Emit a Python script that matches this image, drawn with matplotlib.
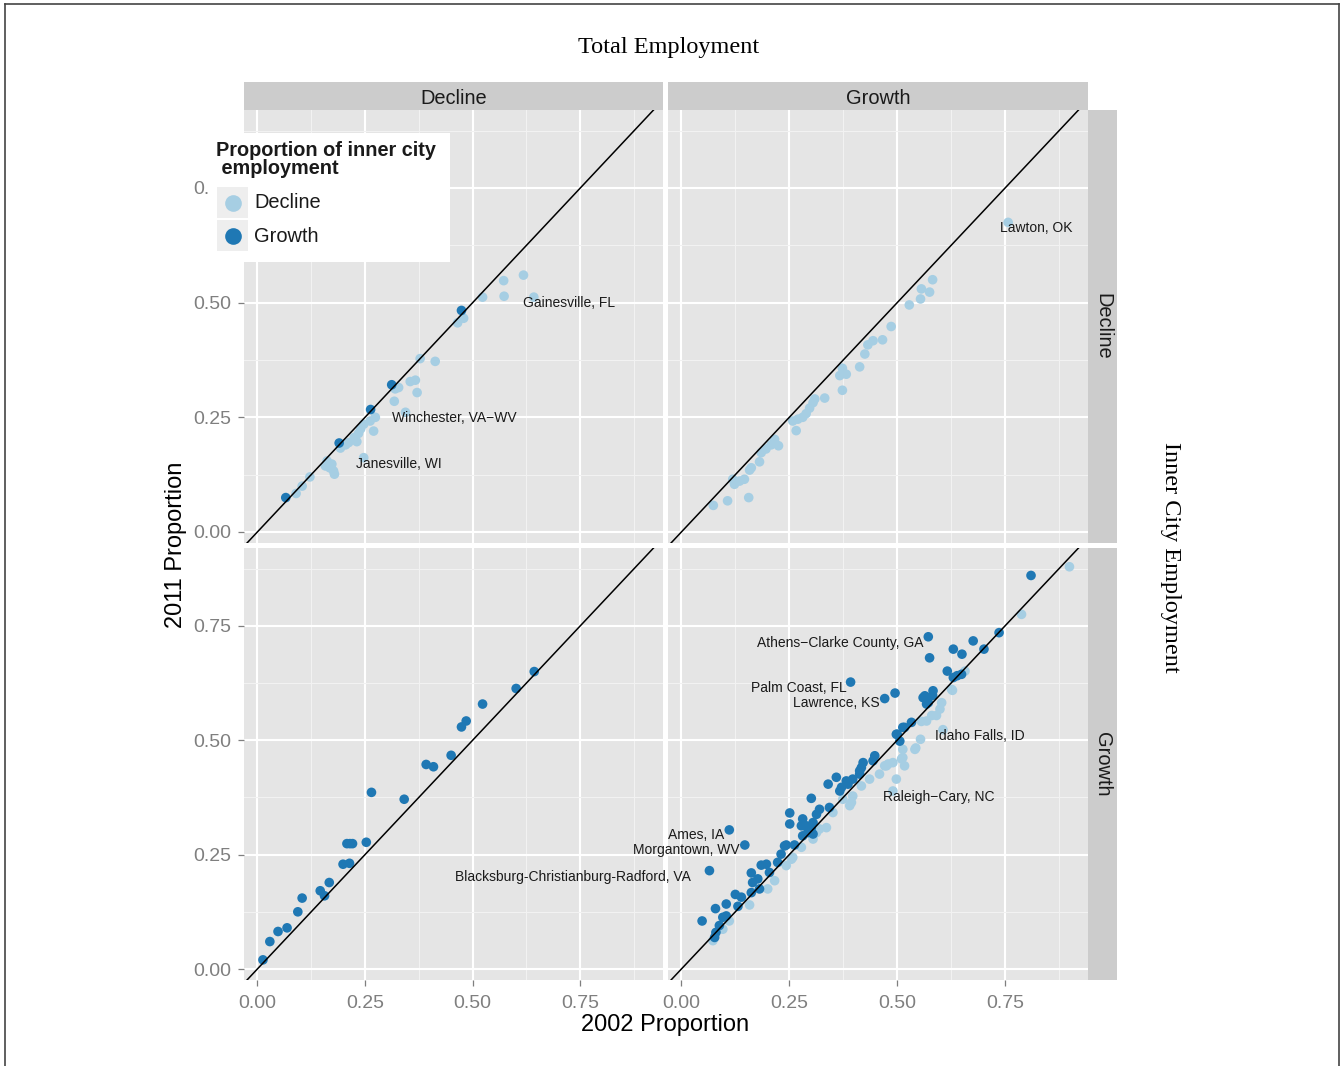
import matplotlib
matplotlib.use("Agg")
import matplotlib.pyplot as plt
from matplotlib.lines import Line2D
from matplotlib.patches import Rectangle

plt.rcParams['font.family'] = ['Liberation Sans', 'DejaVu Sans']

LIGHT = '#A6CEE3'
DARK = '#1F78B4'

# ---- Facet levels --------------------------------------------------------
col_levels = ["Decline", "Growth"]      # total employment
row_levels = ["Decline", "Growth"]      # inner city employment
group_levels = ["Decline", "Growth"]    # proportion of inner city employment
group_colors = [LIGHT, DARK]

# ---- Total: Decline / Inner city: Decline ---------------------------------
dd_light_x = [0.090, 0.104, 0.122, 0.158, 0.162, 0.173, 0.177, 0.179, 0.168, 0.247,
              0.193, 0.212, 0.231, 0.225, 0.235, 0.270, 0.247, 0.262, 0.274, 0.344,
              0.320, 0.328, 0.318, 0.355, 0.367, 0.371, 0.378, 0.413, 0.465, 0.479,
              0.523, 0.573, 0.572, 0.618, 0.642, 0.205, 0.240]
dd_light_y = [0.084, 0.100, 0.120, 0.144, 0.155, 0.148, 0.133, 0.126, 0.140, 0.162,
              0.183, 0.195, 0.197, 0.206, 0.215, 0.220, 0.235, 0.242, 0.250, 0.261,
              0.312, 0.315, 0.285, 0.328, 0.331, 0.304, 0.378, 0.372, 0.456, 0.466,
              0.512, 0.514, 0.548, 0.560, 0.512, 0.190, 0.225]
dd_dark_x = [0.066, 0.190, 0.263, 0.312, 0.474]
dd_dark_y = [0.075, 0.194, 0.267, 0.321, 0.483]

# ---- Total: Growth / Inner city: Decline ----------------------------------
gd_light_x = [0.757, 0.582, 0.556, 0.575, 0.554, 0.528, 0.486, 0.466, 0.444, 0.432,
              0.425, 0.413, 0.373, 0.367, 0.382, 0.373, 0.332, 0.309, 0.305, 0.297,
              0.289, 0.281, 0.270, 0.258, 0.266, 0.225, 0.216, 0.208, 0.196, 0.185,
              0.181, 0.162, 0.158, 0.156, 0.146, 0.135, 0.123, 0.119, 0.107, 0.074]
gd_light_y = [0.675, 0.550, 0.530, 0.523, 0.508, 0.495, 0.448, 0.419, 0.417, 0.408,
              0.388, 0.360, 0.357, 0.341, 0.344, 0.309, 0.292, 0.290, 0.282, 0.270,
              0.258, 0.250, 0.246, 0.242, 0.221, 0.188, 0.202, 0.190, 0.181, 0.173,
              0.153, 0.140, 0.135, 0.075, 0.115, 0.111, 0.104, 0.115, 0.068, 0.058]
gd_dark_x = []
gd_dark_y = []

# ---- Total: Decline / Inner city: Growth ----------------------------------
dg_light_x = []
dg_light_y = []
dg_dark_x = [0.013, 0.029, 0.048, 0.069, 0.094, 0.104, 0.146, 0.156, 0.167, 0.199,
             0.214, 0.208, 0.221, 0.253, 0.265, 0.341, 0.392, 0.409, 0.450, 0.474,
             0.485, 0.523, 0.601, 0.643, 0.215]
dg_dark_y = [0.020, 0.060, 0.082, 0.090, 0.125, 0.155, 0.171, 0.160, 0.189, 0.229,
             0.231, 0.274, 0.274, 0.277, 0.386, 0.371, 0.447, 0.442, 0.467, 0.529,
             0.542, 0.579, 0.613, 0.650, 0.274]

# ---- Total: Growth / Inner city: Growth -----------------------------------
gg_light_x = [0.899, 0.788, 0.657, 0.626, 0.603, 0.599, 0.568, 0.580, 0.556, 0.606,
              0.554, 0.541, 0.513, 0.513, 0.517, 0.479, 0.490, 0.471, 0.498, 0.475,
              0.459, 0.436, 0.490, 0.397, 0.390, 0.374, 0.351, 0.336, 0.320, 0.305,
              0.278, 0.313, 0.258, 0.243, 0.216, 0.200, 0.158, 0.111, 0.096, 0.073,
              0.255, 0.394, 0.417, 0.543, 0.591, 0.510, 0.628]
gg_light_y = [0.879, 0.775, 0.651, 0.611, 0.582, 0.568, 0.542, 0.554, 0.541, 0.523,
              0.502, 0.480, 0.480, 0.462, 0.444, 0.448, 0.451, 0.444, 0.415, 0.444,
              0.426, 0.415, 0.389, 0.378, 0.357, 0.371, 0.342, 0.309, 0.306, 0.284,
              0.266, 0.298, 0.244, 0.226, 0.193, 0.175, 0.140, 0.105, 0.087, 0.062,
              0.240, 0.364, 0.400, 0.483, 0.554, 0.459, 0.609]
gg_dark_x = [0.810, 0.736, 0.572, 0.676, 0.701, 0.630, 0.650, 0.575, 0.616, 0.630,
             0.639, 0.649, 0.583, 0.564, 0.582, 0.572, 0.392, 0.495, 0.471, 0.513,
             0.533, 0.498, 0.506, 0.448, 0.444, 0.421, 0.417, 0.413, 0.397, 0.382,
             0.359, 0.340, 0.371, 0.367, 0.386, 0.301, 0.343, 0.320, 0.313, 0.251,
             0.251, 0.281, 0.289, 0.278, 0.301, 0.281, 0.293, 0.305, 0.239, 0.262,
             0.231, 0.223, 0.243, 0.285, 0.305, 0.204, 0.181, 0.162, 0.165, 0.177,
             0.185, 0.197, 0.162, 0.139, 0.131, 0.096, 0.104, 0.088, 0.080, 0.077,
             0.125, 0.104, 0.079, 0.048, 0.065, 0.147, 0.111, 0.413, 0.500, 0.517,
             0.560, 0.568]
gg_dark_y = [0.860, 0.735, 0.726, 0.717, 0.699, 0.699, 0.688, 0.680, 0.651, 0.637,
             0.641, 0.644, 0.608, 0.597, 0.598, 0.582, 0.627, 0.603, 0.591, 0.528,
             0.539, 0.513, 0.498, 0.466, 0.455, 0.451, 0.440, 0.426, 0.415, 0.411,
             0.419, 0.404, 0.397, 0.389, 0.404, 0.373, 0.353, 0.349, 0.338, 0.341,
             0.317, 0.328, 0.313, 0.313, 0.309, 0.291, 0.298, 0.295, 0.269, 0.271,
             0.251, 0.233, 0.271, 0.313, 0.320, 0.211, 0.175, 0.210, 0.189, 0.197,
             0.227, 0.229, 0.167, 0.157, 0.137, 0.113, 0.116, 0.095, 0.080, 0.069,
             0.163, 0.142, 0.132, 0.105, 0.215, 0.271, 0.304, 0.433, 0.513, 0.528,
             0.593, 0.579]

# ---- Named metro areas (text, x, y, horizontal alignment) -----------------
dd_labels = [("Gainesville, FL", 0.618, 0.499, 'left'),
             ("Winchester, VA\u2212WV", 0.313, 0.248, 'left'),
             ("Janesville, WI", 0.228, 0.148, 'left')]
gd_labels = [("Lawton, OK", 0.738, 0.662, 'left')]
dg_labels = []
gg_labels = [("Athens\u2212Clarke County, GA", 0.560, 0.713, 'right'),
             ("Palm Coast, FL", 0.382, 0.615, 'right'),
             ("Lawrence, KS", 0.459, 0.581, 'right'),
             ("Idaho Falls, ID", 0.587, 0.509, 'left'),
             ("Raleigh\u2212Cary, NC", 0.466, 0.375, 'left'),
             ("Ames, IA", 0.100, 0.293, 'right'),
             ("Morgantown, WV", 0.135, 0.260, 'right'),
             ("Blacksburg-Christianburg-Radford, VA", 0.023, 0.201, 'right')]

ticks = [0.0, 0.25, 0.50, 0.75]
tick_labels = ["0.00", "0.25", "0.50", "0.75"]
minor_ticks = [0.125, 0.375, 0.625, 0.875]

W, H = 1344, 1066
fig = plt.figure(figsize=(W / 100, H / 100), dpi=100)


def fx(px):
    return px / W


def fy(py):
    return 1 - py / H


col_px = [(244, 663), (668, 1088)]
row_px = [(110, 543), (548, 980)]

panels = {
    (0, 0): (dd_light_x, dd_light_y, dd_dark_x, dd_dark_y, dd_labels),
    (0, 1): (gd_light_x, gd_light_y, gd_dark_x, gd_dark_y, gd_labels),
    (1, 0): (dg_light_x, dg_light_y, dg_dark_x, dg_dark_y, dg_labels),
    (1, 1): (gg_light_x, gg_light_y, gg_dark_x, gg_dark_y, gg_labels),
}

GRID_BG = '#E5E5E5'
TICK_GREY = '#7F7F7F'

for (r, c), (lx, ly, dx, dy, labs) in panels.items():
    x0, x1 = col_px[c]
    y0, y1 = row_px[r]
    ax = fig.add_axes([fx(x0), fy(y1), (x1 - x0) / W, (y1 - y0) / H])
    ax.set_facecolor(GRID_BG)
    for s in ax.spines.values():
        s.set_visible(False)
    ax.set_xlim(-0.031, 0.942)
    ax.set_ylim(-0.024, 0.920)
    ax.set_xticks(ticks)
    ax.set_yticks(ticks)
    ax.set_xticks(minor_ticks, minor=True)
    ax.set_yticks(minor_ticks, minor=True)
    ax.grid(which='major', color='white', lw=1.5)
    ax.grid(which='minor', color='#F2F2F2', lw=0.8)
    ax.set_axisbelow(True)
    ax.tick_params(which='minor', length=0)
    ax.tick_params(which='major', color=TICK_GREY, length=4.5, width=0.9,
                   labelsize=14, labelcolor=TICK_GREY)
    ax.tick_params(axis='x', pad=6.5)
    ax.tick_params(axis='y', pad=4.5)
    if c == 0:
        ax.set_yticklabels(tick_labels)
    else:
        ax.tick_params(axis='y', length=0, labelleft=False)
    if r == 1:
        ax.set_xticklabels(tick_labels)
    else:
        ax.tick_params(axis='x', length=0, labelbottom=False)

    ax.scatter(lx, ly, s=48, color=LIGHT, edgecolors='none', zorder=3)
    ax.scatter(dx, dy, s=48, color=DARK, edgecolors='none', zorder=3)
    ax.axline((0, 0), slope=1, color='black', lw=1.1, zorder=4)
    for txt, tx, ty, ha in labs:
        ax.text(tx, ty, txt, ha=ha, va='center', fontsize=10, color='#1A1A1A',
                clip_on=False, zorder=6)

# facet strips
STRIP = '#CCCCCC'
for c, (x0, x1) in enumerate(col_px):
    sa = fig.add_axes([fx(x0), fy(110), (x1 - x0) / W, 28 / H])
    sa.set_facecolor(STRIP)
    sa.set_xticks([]); sa.set_yticks([])
    for s in sa.spines.values():
        s.set_visible(False)
    sa.text(0.5, 0.42, col_levels[c], ha='center', va='center', fontsize=14.4,
            color='#1A1A1A', transform=sa.transAxes)
for r, (y0, y1) in enumerate(row_px):
    sa = fig.add_axes([fx(1088), fy(y1), 29 / W, (y1 - y0) / H])
    sa.set_facecolor(STRIP)
    sa.set_xticks([]); sa.set_yticks([])
    for s in sa.spines.values():
        s.set_visible(False)
    sa.text(0.5, 0.5, row_levels[r], ha='center', va='center', fontsize=14.4,
            rotation=-90, color='#1A1A1A', transform=sa.transAxes)

# axis titles
fig.text(fx(176), fy(545), "2011 Proportion", rotation=90, ha='center',
         va='center', fontsize=17, color='black')
fig.text(fx(665), fy(1025), "2002 Proportion", ha='center', va='center',
         fontsize=17, color='black')

# outer facet titles
fig.text(fx(669), fy(47), "Total Employment", ha='center', va='center',
         fontsize=17.5, family='Liberation Serif', color='black')
fig.text(fx(1170), fy(557), "Inner City Employment", ha='center', va='center',
         rotation=-90, fontsize=17.5, family='Liberation Serif', color='black')

# legend box drawn over the top-left panel
fig.add_artist(Rectangle((fx(209), fy(262)), (450 - 209) / W, (262 - 133) / H,
                         transform=fig.transFigure, facecolor='white',
                         edgecolor='none', zorder=10))
fig.text(fx(216), fy(150), "Proportion of inner city", fontsize=14.3,
         weight='bold', ha='left', va='center', color='#1A1A1A', zorder=11)
fig.text(fx(216), fy(169), " employment", fontsize=14.3,
         weight='bold', ha='left', va='center', color='#1A1A1A', zorder=11)
key_tops = [187, 220]
for name, col, kt in zip(group_levels, group_colors, key_tops):
    fig.add_artist(Rectangle((fx(217), fy(kt + 31)), 31 / W, 31 / H,
                             transform=fig.transFigure, facecolor='#EEEEEE',
                             edgecolor='none', zorder=11))
    fig.add_artist(Line2D([fx(232.5)], [fy(kt + 15.5)], ls='', marker='o',
                          ms=12, color=col, mec='none',
                          transform=fig.transFigure, zorder=12))
    fig.text(fx(254), fy(kt + 16), name, fontsize=14.4, ha='left', va='center',
             color='#1A1A1A', zorder=12)

# thin frame around the figure
frame_kw = dict(color='#444444', lw=1.2, transform=fig.transFigure)
fig.add_artist(Line2D([fx(5), fx(5)], [0, fy(4)], **frame_kw))
fig.add_artist(Line2D([fx(5), fx(1339)], [fy(4), fy(4)], **frame_kw))
fig.add_artist(Line2D([fx(1339), fx(1339)], [0, fy(4)], **frame_kw))

fig.savefig("out.png", dpi=100, facecolor='white')
